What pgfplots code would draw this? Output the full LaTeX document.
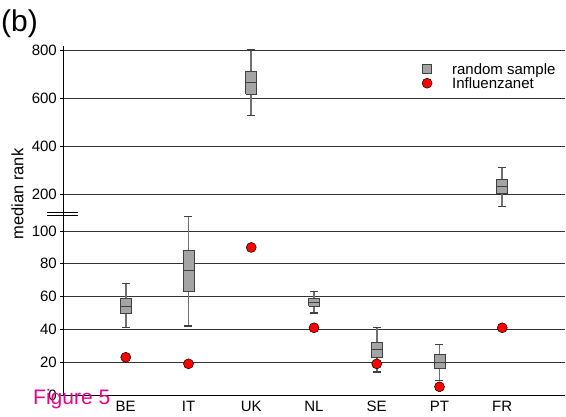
\documentclass[border=0pt]{standalone}
\usepackage{fontspec}
\setmainfont{Liberation Sans}
\usepackage{pgfplots}
\pgfplotsset{compat=1.18}

\definecolor{boxfill}{HTML}{A4A4A4}
\definecolor{boxdraw}{HTML}{404040}
\definecolor{whisk}{HTML}{707070}
\definecolor{gridc}{HTML}{333333}

\pgfplotsset{
  common/.style={
    scale only axis, width=502pt, xmin=-1, xmax=7,
    axis y line*=left, axis x line*=bottom,
    tick align=outside, major tick length=3pt,
    ymajorgrids, major grid style={gridc, line width=0.8pt},
    axis line style={black, line width=0.8pt},
    tick style={black, line width=0.8pt},
    x tick style={draw=none},
    tick label style={font=\fontsize{15}{17}\selectfont},
    yticklabel style={inner xsep=3pt},
    xticklabel style={inner ysep=3pt},
    xtick={0,1,2,3,4,5,6},
    /pgf/number format/assume math mode=true,
  },
  wh/.style={forget plot, draw=whisk, line width=1.8pt, mark=none},
  bx/.style={forget plot, fill=boxfill, draw=boxdraw, line width=0.9pt, line join=miter, mark=none},
  caps/.style={forget plot, only marks, mark=-, mark size=4pt, mark options={draw=boxdraw, line width=1.3pt}},
  meds/.style={forget plot, only marks, mark=-, mark size=5.5pt, mark options={draw=boxdraw, line width=1pt}},
}

\begin{document}
\begin{tikzpicture}
\path[use as bounding box] (0,0) rectangle (566pt,416pt);

% lower part
\begin{axis}[common, at={(63pt,21pt)}, anchor=south west, height=182pt,
  ymin=0, ymax=111, ytick={0,20,40,60,80,100},
  xticklabels={BE,IT,UK,NL,SE,PT,FR},
  legend style={at={(0.715,1.823)}, anchor=north west, draw=none, fill=none,
    font=\fontsize{15}{17}\selectfont, inner sep=0pt, row sep=2pt,
    nodes={inner ysep=0.5pt, inner xsep=0pt, text depth=0pt}},
  legend cell align=left,
  /tikz/every even column/.append style={column sep=0pt}]
% whiskers
\addplot[wh] coordinates {(0,41) (0,68)};
\addplot[wh] coordinates {(1,42) (1,109)};
\addplot[wh] coordinates {(3,50) (3,63)};
\addplot[wh] coordinates {(4,14) (4,41)};
\addplot[wh] coordinates {(5,9) (5,31)};
\addplot[caps] coordinates {(0,41) (0,68) (1,42) (1,109) (3,50) (3,63) (4,14) (4,41) (5,9) (5,31)};
% boxes (lower quartile to upper quartile)
\addplot[bx] coordinates {(-0.0875,50) (0.0875,50) (0.0875,59) (-0.0875,59) (-0.0875,50)};
\addplot[bx] coordinates {(0.9125,63) (1.0875,63) (1.0875,88) (0.9125,88) (0.9125,63)};
\addplot[bx] coordinates {(2.9125,54) (3.0875,54) (3.0875,59) (2.9125,59) (2.9125,54)};
\addplot[bx] coordinates {(3.9125,23) (4.0875,23) (4.0875,32) (3.9125,32) (3.9125,23)};
\addplot[bx] coordinates {(4.9125,16) (5.0875,16) (5.0875,25) (4.9125,25) (4.9125,16)};
% medians
\addplot[meds] coordinates {(0,54) (1,76) (3,56.5) (4,27.5) (5,20)};
\addlegendimage{only marks, mark=square*, mark size=4.5pt, mark options={fill=boxfill, draw=boxdraw, line width=0.8pt}}
\addlegendentry{\hspace{20pt}random sample}
\addplot[only marks, mark=*, mark size=5pt, mark options={fill=red, draw=black, line width=0.5pt}]
  coordinates {(0,23) (1,19) (2,90) (3,41) (4,19) (5,5) (6,41)};
\addlegendentry{\hspace{20pt}Influenzanet}
\end{axis}

% upper part
\begin{axis}[common, at={(63pt,203pt)}, anchor=south west, height=167pt,
  ymin=121, ymax=817, ytick={200,400,600,800},
  xticklabels={}, x axis line style={draw=none}]
\addplot[wh] coordinates {(2,527) (2,800)};
\addplot[wh] coordinates {(6,149) (6,311)};
\addplot[caps] coordinates {(2,527) (2,800) (6,149) (6,311)};
\addplot[bx] coordinates {(1.9125,616) (2.0875,616) (2.0875,712) (1.9125,712) (1.9125,616)};
\addplot[bx] coordinates {(5.9125,201) (6.0875,201) (6.0875,260) (5.9125,260) (5.9125,201)};
\addplot[meds] coordinates {(2,665) (6,230)};
\end{axis}

% axis break marks
\draw[black, line width=0.8pt] (47pt,204pt) -- (78pt,204pt);
\draw[black, line width=0.8pt] (47pt,201pt) -- (78pt,201pt);

\node[rotate=90, font=\fontsize{16.5}{18}\selectfont, inner sep=0pt] at (17.5pt,222pt) {median rank};
\node[anchor=base west, inner sep=0pt, font=\fontsize{30}{32}\selectfont] at (1pt,384pt) {(b)};
\node[anchor=base west, inner sep=0pt, text=magenta, font=\fontsize{21}{23}\selectfont] at (33pt,12pt) {Figure 5};
\end{tikzpicture}
\end{document}
